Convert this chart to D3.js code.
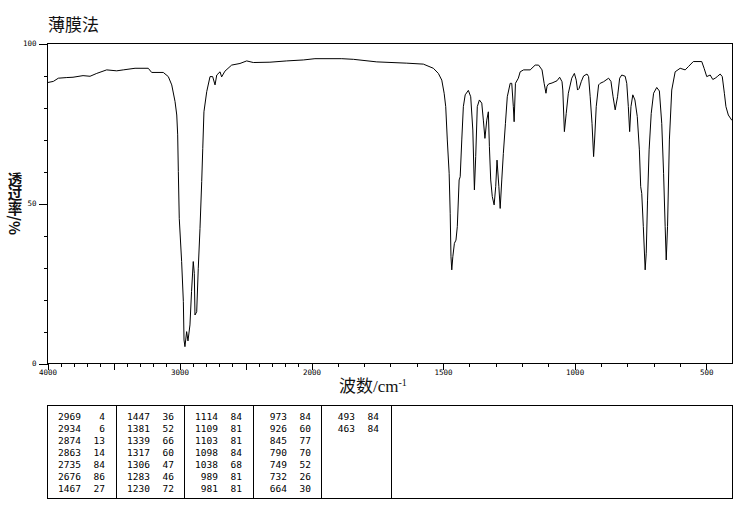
<!DOCTYPE html>
<html><head><meta charset="utf-8">
<script src="https://cdn.jsdelivr.net/npm/d3@7"></script>
<style>
html,body{margin:0;padding:0;background:#fff;}
svg{display:block;}
</style>
</head><body>
<svg id="chart" width="737" height="510"></svg>
<script>
// Spectrum: wavenumber (cm-1) and transmittance (%)
const wavenumbers = [4000,3952,3914,3850,3803,3727,3674,3623,3548,3472,3422,3333,3233,3207,3119,3081,3055,3030,3017,3010,3005,2998,2980,2967,2962,2955,2942,2932,2917,2905,2892,2884,2879,2866,2854,2841,2828,2820,2811,2790,2765,2745,2727,2714,2689,2677,2652,2601,2538,2487,2437,2311,2184,2058,1985,1883,1839,1750,1636,1573,1535,1516,1503,1494,1488,1482,1475,1471,1468,1465,1461,1455,1449,1444,1437,1433,1427,1421,1414,1402,1393,1385,1379,1374,1368,1360,1351,1345,1339,1332,1326,1322,1317,1311,1304,1298,1293,1286,1281,1275,1269,1261,1254,1243,1237,1231,1228,1223,1212,1205,1192,1167,1148,1135,1122,1114,1107,1103,1097,1084,1065,1055,1046,1043,1037,1030,1022,1009,999,992,987,981,973,964,951,945,939,932,926,922,916,907,901,888,869,860,852,844,835,827,819,806,800,794,789,784,777,769,760,752,747,743,737,730,726,721,715,707,698,686,676,667,660,654,650,645,638,629,616,597,578,566,547,515,506,496,483,473,464,456,445,437,429,423,414,401,400];
const transmittance = [87.6,88.0,89.0,89.2,89.3,89.8,89.6,90.5,91.6,91.3,91.6,92.1,92.1,90.8,90.8,89.5,86.9,81.7,77.5,71.3,59.8,45.2,31.7,19.2,7.2,5.1,9.8,6.9,11.9,22.3,31.7,28,15,16,29.6,42,56.7,67,78.5,84.8,89.5,89.5,86.9,90,91,89.4,91.2,93.1,93.6,94.4,93.9,94.0,94.4,94.7,95.1,95.1,94.9,94.1,93.7,93.4,92.1,90.5,88.4,84.3,80.1,69.7,59.3,46.8,33.2,29.1,33.2,37.4,38.4,42.6,57.2,58.2,69.7,80.1,83.8,85.2,83.2,72.8,54.1,64.5,80.1,82.2,81.2,75.9,70.2,75.9,78.5,67.6,57.2,52,49.4,55.1,63.4,55.1,48.3,57.2,65.5,74.9,83.2,87.4,87.4,80.1,75.4,87.4,89,91,91.6,91.6,93.1,93.1,91.6,87.4,84.3,86.5,87.2,87.5,88.2,89.3,87.9,85.3,72.3,78,84.3,89,90.5,88.4,85.3,85.8,87.9,89.7,90.3,89.5,83.2,74.9,64.5,70,80.1,86.9,87.4,87.9,89,88,83.2,79.1,83.2,89,90,89.6,87.4,80.1,72.3,80.1,83.8,82.2,77,66.6,55.1,53,42.6,29.1,34.3,50.9,66.6,78,84.3,86.1,85,74.9,59.3,42.6,32.2,42.6,69.7,85.3,91,92.1,91.6,92.6,94.2,94.2,92.1,89.5,90,88.6,89,89.5,90.3,89.5,84.3,80.1,77.5,75.9,75.8];

// Peak table
const peakWavenumbers = [2969,2934,2874,2863,2735,2676,1467,1447,1381,1339,1317,1306,1283,1230,1114,1109,1103,1098,1038,989,981,973,926,845,790,749,732,664,493,463];
const peakTransmittance = [4,6,13,14,84,86,27,36,52,66,60,47,46,72,84,81,81,84,68,81,81,84,60,77,70,52,26,30,84,84];

// Axis ticks
const xMajorTicks = [4000,3500,3000,2500,2000,1500,1000,500];
const xLabelTicks = [4000,3000,2000,1500,1000,500];
const xMinorTicks = d3.range(500, 4001, 100);
const yLabelTicks = [0,50,100];
const yMinorTicks = d3.range(0, 101, 10);

const title = "薄膜法";
const xTitle = "波数/cm";
const yTitle = "透过率/%";

const svg = d3.select("#chart");
const L = 47, R = 732, T = 43, B = 363;

const x = d3.scaleLinear().domain([4000, 2000, 400]).range([L, 311, R]);
const y = d3.scaleLinear().domain([0, 100]).range([B, T]);

// Frame
svg.append("rect").attr("x", L + 0.5).attr("y", T + 0.5)
  .attr("width", R - L).attr("height", B - T)
  .attr("fill", "none").attr("stroke", "#000").attr("stroke-width", 1)
  .attr("shape-rendering", "crispEdges");

const tickFont = "'DejaVu Sans Mono', monospace";

// X axis minor
const gxMin = svg.append("g").attr("transform", `translate(0.5,${B + 0.5})`)
  .call(d3.axisBottom(x).tickValues(xMinorTicks).tickSize(3).tickFormat(""));
// X axis major
const gx = svg.append("g").attr("transform", `translate(0.5,${B + 0.5})`)
  .call(d3.axisBottom(x).tickValues(xMajorTicks).tickSize(6).tickPadding(0)
    .tickFormat(d => xLabelTicks.includes(d) ? d : ""));
[gxMin, gx].forEach(g => {
  g.select(".domain").remove();
  g.selectAll("line").attr("stroke", "#000").attr("shape-rendering", "crispEdges");
});
gx.selectAll("text").attr("font-family", tickFont).attr("font-size", "7.5px").attr("fill", "#000");

// Y axis minor
const gyMin = svg.append("g").attr("transform", `translate(${L + 0.5},0.5)`)
  .call(d3.axisLeft(y).tickValues(yMinorTicks).tickSize(4).tickFormat(""));
const gy = svg.append("g").attr("transform", `translate(${L + 0.5},0.5)`)
  .call(d3.axisLeft(y).tickValues(yLabelTicks).tickSize(9).tickPadding(2));
[gyMin, gy].forEach(g => {
  g.select(".domain").remove();
  g.selectAll("line").attr("stroke", "#000").attr("shape-rendering", "crispEdges");
});
gy.selectAll("text").attr("font-family", tickFont).attr("font-size", "7.5px").attr("fill", "#000");

// Spectrum line
const pts = wavenumbers.map((w, i) => [w, transmittance[i]]);
svg.append("path").datum(pts)
  .attr("d", d3.line().x(d => x(d[0])).y(d => y(d[1])))
  .attr("fill", "none").attr("stroke", "#000").attr("stroke-width", 1);

// Title
svg.append("text").attr("x", 48).attr("y", 31)
  .attr("font-family", "'Noto Sans CJK SC', sans-serif").attr("font-size", "17px")
  .attr("fill", "#111").text(title);

// X title
const xt = svg.append("text").attr("x", 339).attr("y", 392)
  .attr("font-family", "'Liberation Serif', 'Noto Sans CJK SC', serif").attr("font-size", "17px")
  .attr("fill", "#111");
xt.append("tspan").text(xTitle);
xt.append("tspan").attr("dy", -6).attr("font-size", "10px").text("-1");

// Y title (vertical writing: CJK upright, Latin rotated)
svg.append("text").attr("x", 15).attr("y", 172)
  .style("writing-mode", "vertical-rl")
  .attr("font-family", "'Noto Sans CJK SC', sans-serif").attr("font-size", "14.5px")
  .attr("font-weight", "bold").attr("fill", "#111").text(yTitle);

// Peak table
const tT = 405, tB = 498;
const colEdges = [47, 116, 184, 253, 321, 391, 732];
svg.append("rect").attr("x", L + 0.5).attr("y", tT + 0.5)
  .attr("width", R - L).attr("height", tB - tT)
  .attr("fill", "none").attr("stroke", "#000").attr("shape-rendering", "crispEdges");
colEdges.slice(1, -1).forEach(cx => {
  svg.append("line").attr("x1", cx + 0.5).attr("x2", cx + 0.5).attr("y1", tT).attr("y2", tB)
    .attr("stroke", "#000").attr("shape-rendering", "crispEdges");
});
const tg = svg.append("g").attr("font-family", tickFont).attr("font-size", "9.5px").attr("fill", "#000");
peakWavenumbers.forEach((w, i) => {
  const col = Math.floor(i / 7), row = i % 7;
  const cx = colEdges[col];
  const ty = 419.5 + row * 12.1;
  tg.append("text").attr("x", cx + 34).attr("y", ty).attr("text-anchor", "end").text(w);
  tg.append("text").attr("x", cx + 58).attr("y", ty).attr("text-anchor", "end").text(peakTransmittance[i]);
});
</script>
</body></html>
